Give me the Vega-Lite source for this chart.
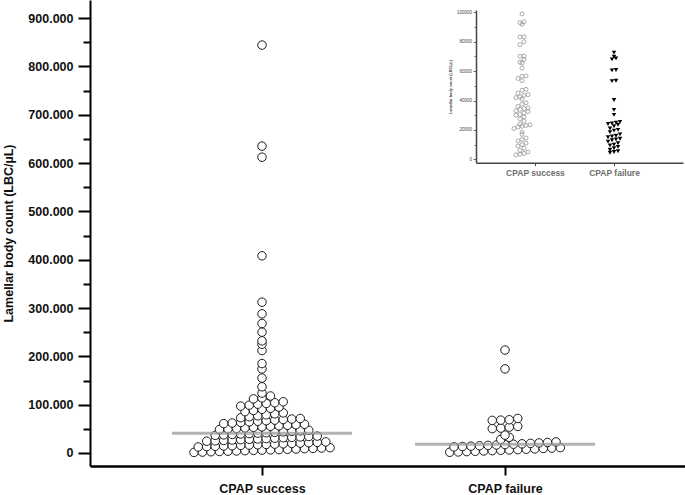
{
  "$schema": "https://vega.github.io/schema/vega-lite/v6.json",
  "width": 595,
  "height": 466,
  "autosize": "none",
  "padding": {"left": 90, "top": 0, "right": 0, "bottom": 29},
  "background": "white",
  "config": {
    "view": {"stroke": null},
    "axis": {"grid": false, "domainColor": "black", "tickColor": "black", "labelFont": "Liberation Sans", "titleFont": "Liberation Sans", "labelColor": "#111", "titleColor": "#111"}
  },
  "datasets": {
    "main": [
      {"group": "CPAP success", "lbc": 1200}, {"group": "CPAP success", "lbc": 1800}, {"group": "CPAP success", "lbc": 2600}, {"group": "CPAP success", "lbc": 3100}, {"group": "CPAP success", "lbc": 3700}, {"group": "CPAP success", "lbc": 4200}, {"group": "CPAP success", "lbc": 4800}, {"group": "CPAP success", "lbc": 5400}, {"group": "CPAP success", "lbc": 5900}, {"group": "CPAP success", "lbc": 6500}, {"group": "CPAP success", "lbc": 7000}, {"group": "CPAP success", "lbc": 7600}, {"group": "CPAP success", "lbc": 8300}, {"group": "CPAP success", "lbc": 8900}, {"group": "CPAP success", "lbc": 9500}, {"group": "CPAP success", "lbc": 10200}, {"group": "CPAP success", "lbc": 11000},
      {"group": "CPAP success", "lbc": 12500}, {"group": "CPAP success", "lbc": 13200}, {"group": "CPAP success", "lbc": 13800}, {"group": "CPAP success", "lbc": 14500}, {"group": "CPAP success", "lbc": 15100}, {"group": "CPAP success", "lbc": 15800}, {"group": "CPAP success", "lbc": 16400}, {"group": "CPAP success", "lbc": 17000}, {"group": "CPAP success", "lbc": 17700}, {"group": "CPAP success", "lbc": 18300}, {"group": "CPAP success", "lbc": 19000}, {"group": "CPAP success", "lbc": 19800}, {"group": "CPAP success", "lbc": 20500}, {"group": "CPAP success", "lbc": 21300}, {"group": "CPAP success", "lbc": 22100}, {"group": "CPAP success", "lbc": 23000},
      {"group": "CPAP success", "lbc": 24400}, {"group": "CPAP success", "lbc": 25200}, {"group": "CPAP success", "lbc": 26000}, {"group": "CPAP success", "lbc": 26800}, {"group": "CPAP success", "lbc": 27500}, {"group": "CPAP success", "lbc": 28300}, {"group": "CPAP success", "lbc": 29000}, {"group": "CPAP success", "lbc": 29800}, {"group": "CPAP success", "lbc": 30600}, {"group": "CPAP success", "lbc": 31500}, {"group": "CPAP success", "lbc": 32300}, {"group": "CPAP success", "lbc": 33200}, {"group": "CPAP success", "lbc": 34100}, {"group": "CPAP success", "lbc": 35000},
      {"group": "CPAP success", "lbc": 36500}, {"group": "CPAP success", "lbc": 37500}, {"group": "CPAP success", "lbc": 38400}, {"group": "CPAP success", "lbc": 39300}, {"group": "CPAP success", "lbc": 40200}, {"group": "CPAP success", "lbc": 41000}, {"group": "CPAP success", "lbc": 41900}, {"group": "CPAP success", "lbc": 42800}, {"group": "CPAP success", "lbc": 43800}, {"group": "CPAP success", "lbc": 44800}, {"group": "CPAP success", "lbc": 45900}, {"group": "CPAP success", "lbc": 47000},
      {"group": "CPAP success", "lbc": 48600}, {"group": "CPAP success", "lbc": 49700}, {"group": "CPAP success", "lbc": 50800}, {"group": "CPAP success", "lbc": 51900}, {"group": "CPAP success", "lbc": 53000}, {"group": "CPAP success", "lbc": 54100}, {"group": "CPAP success", "lbc": 55200}, {"group": "CPAP success", "lbc": 56300}, {"group": "CPAP success", "lbc": 57400}, {"group": "CPAP success", "lbc": 58500}, {"group": "CPAP success", "lbc": 59500},
      {"group": "CPAP success", "lbc": 60800}, {"group": "CPAP success", "lbc": 62000}, {"group": "CPAP success", "lbc": 63200}, {"group": "CPAP success", "lbc": 64400}, {"group": "CPAP success", "lbc": 65600}, {"group": "CPAP success", "lbc": 66800}, {"group": "CPAP success", "lbc": 68000}, {"group": "CPAP success", "lbc": 69200}, {"group": "CPAP success", "lbc": 70300}, {"group": "CPAP success", "lbc": 71400},
      {"group": "CPAP success", "lbc": 73000}, {"group": "CPAP success", "lbc": 75000}, {"group": "CPAP success", "lbc": 77000}, {"group": "CPAP success", "lbc": 79000}, {"group": "CPAP success", "lbc": 81000}, {"group": "CPAP success", "lbc": 83000},
      {"group": "CPAP success", "lbc": 85500}, {"group": "CPAP success", "lbc": 88000}, {"group": "CPAP success", "lbc": 90500}, {"group": "CPAP success", "lbc": 92500}, {"group": "CPAP success", "lbc": 95000},
      {"group": "CPAP success", "lbc": 97000}, {"group": "CPAP success", "lbc": 99000}, {"group": "CPAP success", "lbc": 101000}, {"group": "CPAP success", "lbc": 102500}, {"group": "CPAP success", "lbc": 104000}, {"group": "CPAP success", "lbc": 106000},
      {"group": "CPAP success", "lbc": 112000}, {"group": "CPAP success", "lbc": 114000}, {"group": "CPAP success", "lbc": 118000},
      {"group": "CPAP success", "lbc": 124000}, {"group": "CPAP success", "lbc": 137000}, {"group": "CPAP success", "lbc": 155000}, {"group": "CPAP success", "lbc": 174000}, {"group": "CPAP success", "lbc": 185000}, {"group": "CPAP success", "lbc": 212000}, {"group": "CPAP success", "lbc": 225000}, {"group": "CPAP success", "lbc": 232000}, {"group": "CPAP success", "lbc": 250000}, {"group": "CPAP success", "lbc": 268000}, {"group": "CPAP success", "lbc": 288000}, {"group": "CPAP success", "lbc": 312000}, {"group": "CPAP success", "lbc": 408000}, {"group": "CPAP success", "lbc": 612000}, {"group": "CPAP success", "lbc": 635000}, {"group": "CPAP success", "lbc": 844000},
      {"group": "CPAP failure", "lbc": 1500}, {"group": "CPAP failure", "lbc": 2200}, {"group": "CPAP failure", "lbc": 2900}, {"group": "CPAP failure", "lbc": 3500}, {"group": "CPAP failure", "lbc": 4200}, {"group": "CPAP failure", "lbc": 4900}, {"group": "CPAP failure", "lbc": 5600}, {"group": "CPAP failure", "lbc": 6300}, {"group": "CPAP failure", "lbc": 7000}, {"group": "CPAP failure", "lbc": 7700}, {"group": "CPAP failure", "lbc": 8500}, {"group": "CPAP failure", "lbc": 9300}, {"group": "CPAP failure", "lbc": 10200}, {"group": "CPAP failure", "lbc": 11100},
      {"group": "CPAP failure", "lbc": 12600}, {"group": "CPAP failure", "lbc": 13400}, {"group": "CPAP failure", "lbc": 14200}, {"group": "CPAP failure", "lbc": 15000}, {"group": "CPAP failure", "lbc": 15800}, {"group": "CPAP failure", "lbc": 16600}, {"group": "CPAP failure", "lbc": 17400}, {"group": "CPAP failure", "lbc": 18200}, {"group": "CPAP failure", "lbc": 19000}, {"group": "CPAP failure", "lbc": 19900}, {"group": "CPAP failure", "lbc": 20800}, {"group": "CPAP failure", "lbc": 21800}, {"group": "CPAP failure", "lbc": 22900},
      {"group": "CPAP failure", "lbc": 28000}, {"group": "CPAP failure", "lbc": 32500}, {"group": "CPAP failure", "lbc": 37000},
      {"group": "CPAP failure", "lbc": 50500}, {"group": "CPAP failure", "lbc": 51500}, {"group": "CPAP failure", "lbc": 53500}, {"group": "CPAP failure", "lbc": 55000},
      {"group": "CPAP failure", "lbc": 67500}, {"group": "CPAP failure", "lbc": 68000}, {"group": "CPAP failure", "lbc": 68800}, {"group": "CPAP failure", "lbc": 71500},
      {"group": "CPAP failure", "lbc": 174000}, {"group": "CPAP failure", "lbc": 213000}
    ],
    "medians": [
      {"group": "CPAP success", "lbc": 41000},
      {"group": "CPAP failure", "lbc": 18000}
    ],
    "inset": [
      {"group": "CPAP success", "lbc": 98900}, {"group": "CPAP success", "lbc": 93600}, {"group": "CPAP success", "lbc": 93000}, {"group": "CPAP success", "lbc": 92000}, {"group": "CPAP success", "lbc": 83400}, {"group": "CPAP success", "lbc": 83200}, {"group": "CPAP success", "lbc": 80000}, {"group": "CPAP success", "lbc": 78000}, {"group": "CPAP success", "lbc": 70300}, {"group": "CPAP success", "lbc": 70100}, {"group": "CPAP success", "lbc": 68000}, {"group": "CPAP success", "lbc": 66000}, {"group": "CPAP success", "lbc": 65500}, {"group": "CPAP success", "lbc": 62000}, {"group": "CPAP success", "lbc": 56700}, {"group": "CPAP success", "lbc": 56500}, {"group": "CPAP success", "lbc": 55000}, {"group": "CPAP success", "lbc": 53500}, {"group": "CPAP success", "lbc": 47600}, {"group": "CPAP success", "lbc": 47000}, {"group": "CPAP success", "lbc": 45000}, {"group": "CPAP success", "lbc": 44000}, {"group": "CPAP success", "lbc": 43500}, {"group": "CPAP success", "lbc": 42500}, {"group": "CPAP success", "lbc": 42000}, {"group": "CPAP success", "lbc": 41000}, {"group": "CPAP success", "lbc": 38500}, {"group": "CPAP success", "lbc": 37500}, {"group": "CPAP success", "lbc": 36000}, {"group": "CPAP success", "lbc": 35000}, {"group": "CPAP success", "lbc": 34500}, {"group": "CPAP success", "lbc": 34000}, {"group": "CPAP success", "lbc": 33000}, {"group": "CPAP success", "lbc": 32500}, {"group": "CPAP success", "lbc": 31500}, {"group": "CPAP success", "lbc": 30500}, {"group": "CPAP success", "lbc": 30000}, {"group": "CPAP success", "lbc": 29000}, {"group": "CPAP success", "lbc": 27500}, {"group": "CPAP success", "lbc": 26000}, {"group": "CPAP success", "lbc": 24000}, {"group": "CPAP success", "lbc": 23500}, {"group": "CPAP success", "lbc": 23000}, {"group": "CPAP success", "lbc": 22500}, {"group": "CPAP success", "lbc": 22000}, {"group": "CPAP success", "lbc": 21000}, {"group": "CPAP success", "lbc": 18500}, {"group": "CPAP success", "lbc": 17000}, {"group": "CPAP success", "lbc": 14500}, {"group": "CPAP success", "lbc": 13500}, {"group": "CPAP success", "lbc": 12500}, {"group": "CPAP success", "lbc": 11000}, {"group": "CPAP success", "lbc": 10000}, {"group": "CPAP success", "lbc": 9000}, {"group": "CPAP success", "lbc": 7500}, {"group": "CPAP success", "lbc": 6000}, {"group": "CPAP success", "lbc": 5000}, {"group": "CPAP success", "lbc": 4000}, {"group": "CPAP success", "lbc": 3500}, {"group": "CPAP success", "lbc": 3000},
      {"group": "CPAP failure", "lbc": 72600}, {"group": "CPAP failure", "lbc": 69800}, {"group": "CPAP failure", "lbc": 68700}, {"group": "CPAP failure", "lbc": 68000}, {"group": "CPAP failure", "lbc": 60800}, {"group": "CPAP failure", "lbc": 60500}, {"group": "CPAP failure", "lbc": 53500}, {"group": "CPAP failure", "lbc": 53200}, {"group": "CPAP failure", "lbc": 40400}, {"group": "CPAP failure", "lbc": 33600}, {"group": "CPAP failure", "lbc": 30200}, {"group": "CPAP failure", "lbc": 25500}, {"group": "CPAP failure", "lbc": 25000}, {"group": "CPAP failure", "lbc": 24500}, {"group": "CPAP failure", "lbc": 24000}, {"group": "CPAP failure", "lbc": 23500}, {"group": "CPAP failure", "lbc": 22500}, {"group": "CPAP failure", "lbc": 21000}, {"group": "CPAP failure", "lbc": 20000}, {"group": "CPAP failure", "lbc": 19500}, {"group": "CPAP failure", "lbc": 18500}, {"group": "CPAP failure", "lbc": 17000}, {"group": "CPAP failure", "lbc": 16000}, {"group": "CPAP failure", "lbc": 15500}, {"group": "CPAP failure", "lbc": 15000}, {"group": "CPAP failure", "lbc": 14000}, {"group": "CPAP failure", "lbc": 13500}, {"group": "CPAP failure", "lbc": 13000}, {"group": "CPAP failure", "lbc": 12000}, {"group": "CPAP failure", "lbc": 11000}, {"group": "CPAP failure", "lbc": 10000}, {"group": "CPAP failure", "lbc": 9500}, {"group": "CPAP failure", "lbc": 8500}, {"group": "CPAP failure", "lbc": 7500}, {"group": "CPAP failure", "lbc": 6500}, {"group": "CPAP failure", "lbc": 5500}, {"group": "CPAP failure", "lbc": 5000}, {"group": "CPAP failure", "lbc": 4500}
    ]
  },
  "layer": [
    {
      "encoding": {
        "x": {
          "field": "gx", "type": "quantitative",
          "scale": {"domain": [-0.7078, 1.7407], "nice": false, "zero": false},
          "axis": {"values": [0, 1], "labelExpr": "datum.value === 0 ? 'CPAP success' : 'CPAP failure'", "tickSize": 9, "tickWidth": 2, "domainWidth": 2.5, "labelPadding": 7, "labelFontSize": 12.5, "labelFontWeight": "bold", "title": null, "labelFlush": false, "labelOverlap": false}
        },
        "y": {
          "field": "lbc", "type": "quantitative",
          "scale": {"domain": [-26900, 937300], "nice": false, "zero": false},
          "axis": {
            "values": [0, 50000, 100000, 150000, 200000, 250000, 300000, 350000, 400000, 450000, 500000, 550000, 600000, 650000, 700000, 750000, 800000, 850000, 900000],
            "labelExpr": "datum.value % 100000 === 0 ? (datum.value === 0 ? '0' : format(datum.value / 1000, 'd') + '.000') : ''",
            "tickSize": {"condition": {"test": "datum.value % 100000 === 0", "value": 12}, "value": 7},
            "tickWidth": 2, "domainWidth": 2, "labelFontSize": 12.5, "labelFontWeight": "bold", "labelPadding": 5, "labelOverlap": false, "labelFlush": false,
            "title": "Lamellar body count (LBC/µL)", "titleFontSize": 12.5, "titleFontWeight": "bold", "titlePadding": 12
          }
        }
      },
      "layer": [
        {
          "data": {"name": "main"},
          "transform": [
            {"calculate": "floor(datum.lbc / 12000)", "as": "bin"},
            {"window": [{"op": "row_number", "as": "rank"}, {"op": "count", "as": "n"}], "groupby": ["group", "bin"], "sort": [{"field": "lbc", "order": "ascending"}], "frame": [null, null]},
            {"calculate": "(datum.group === 'CPAP success' ? 0 : 1) + (datum.rank - (datum.n + 1) / 2) * 0.035", "as": "gx"}
          ],
          "mark": {"type": "circle", "fill": "white", "stroke": "#1a1a1a", "strokeWidth": 1, "size": 72, "opacity": 1}
        },
        {
          "data": {"name": "medians"},
          "transform": [{"calculate": "datum.group === 'CPAP success' ? 0 : 1", "as": "gx"}],
          "mark": {"type": "tick", "orient": "horizontal", "size": 180, "thickness": 3, "color": "#9a9a9a", "opacity": 0.75}
        }
      ]
    },
    {
      "data": {"name": "inset"},
      "transform": [
        {"calculate": "floor(datum.lbc / 3000)", "as": "bin"},
        {"window": [{"op": "row_number", "as": "rank"}, {"op": "count", "as": "n"}], "groupby": ["group", "bin"], "sort": [{"field": "lbc", "order": "ascending"}], "frame": [null, null]},
        {"calculate": "(datum.group === 'CPAP success' ? 0 : 1) + (datum.rank - (datum.n + 1) / 2) * 0.0435", "as": "gx"}
      ],
      "encoding": {
        "x": {
          "field": "gx", "type": "quantitative",
          "scale": {"domain": [-0.5, 1.75], "range": [386, 593], "nice": false, "zero": false},
          "axis": {"orient": "bottom", "offset": -303.3, "values": [0.141, 1], "labelExpr": "datum.value < 0.5 ? 'CPAP success' : 'CPAP failure'", "tickSize": 3, "tickWidth": 1, "domainWidth": 1.5, "domainColor": "#444", "tickColor": "#444", "labelColor": "#6e6e6e", "labelFontSize": 8.5, "labelFontWeight": "bold", "labelPadding": 3, "title": null, "labelFlush": false, "labelOverlap": false}
        },
        "y": {
          "field": "lbc", "type": "quantitative",
          "scale": {"domain": [-2300, 101600], "range": [162.7, 10], "nice": false, "zero": false},
          "axis": {
            "orient": "left", "offset": -386,
            "values": [0, 10000, 20000, 30000, 40000, 50000, 60000, 70000, 80000, 90000, 100000],
            "labelExpr": "datum.value % 20000 === 0 ? format(datum.value, 'd') : ''",
            "tickSize": {"condition": {"test": "datum.value % 20000 === 0", "value": 3}, "value": 2},
            "tickWidth": 0.8, "domainWidth": 1.5, "domainColor": "#444", "tickColor": "#444", "labelFontSize": 4.5, "labelColor": "#444", "labelPadding": 1.5, "labelOverlap": false, "labelFlush": false,
            "title": "Lamellar body count (LBC/µL)", "titleFontSize": 3.8, "titleFontWeight": "bold", "titleColor": "#444", "titlePadding": 4
          }
        }
      },
      "layer": [
        {
          "transform": [{"filter": "datum.group === 'CPAP success'"}],
          "mark": {"type": "point", "shape": "circle", "filled": false, "stroke": "#8a8a8a", "strokeWidth": 0.7, "size": 16, "opacity": 1}
        },
        {
          "transform": [{"filter": "datum.group === 'CPAP failure'"}],
          "mark": {"type": "point", "shape": "triangle-down", "filled": true, "fill": "black", "stroke": null, "size": 20, "opacity": 1}
        }
      ]
    }
  ],
  "resolve": {"scale": {"x": "independent", "y": "independent"}}
}
